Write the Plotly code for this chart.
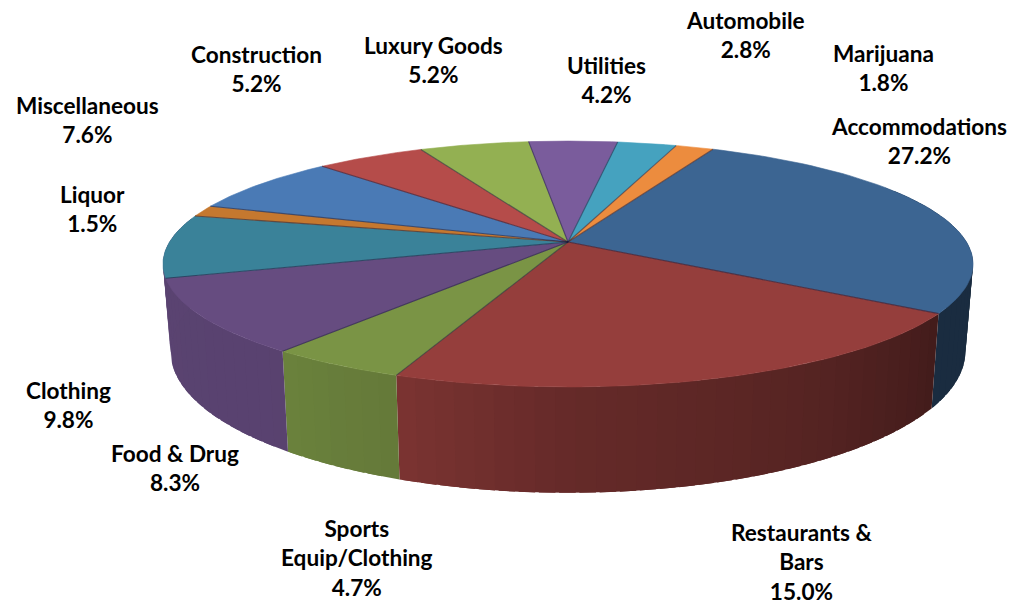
import numpy as np
import plotly.graph_objects as go

# ---- data ----
categories = ["Accommodations", "Restaurants &<br>Bars", "Sports<br>Equip/Clothing", "Clothing",
              "Food & Drug", "Liquor", "Miscellaneous", "Construction", "Luxury Goods",
              "Utilities", "Automobile", "Marijuana"]
printed_pct = ["27.2%", "15.0%", "4.7%", "9.8%", "8.3%", "1.5%", "7.6%", "5.2%", "5.2%", "4.2%", "2.8%", "1.8%"]
# drawn slice shares (the restaurants wedge is visibly larger than its printed label)
slice_shares = [27.2, 21.7, 4.7, 9.8, 8.3, 1.5, 7.6, 5.2, 5.2, 4.2, 2.8, 1.8]

# ---- styling and layout ----
top_colors = ["#3C6592", "#953E3C", "#7A9445", "#664C80", "#3A8299", "#C5782F",
              "#4A7AB5", "#B54C4A", "#93B052", "#7A5C9C", "#45A2BF", "#EC8C3E"]
label_anchor = [(919, 141), (802, 562), (357, 558), (68, 405), (175, 468), (92, 209),
                (87, 120), (256, 69), (433, 60), (606, 80), (745, 35), (883, 68)]
START_DEG = -65.0
CX, CY = 568.0, 242.0
PERSP = 0.179
TOP = dict(rx=398.5, ry=119.0, y0=242.0)
BOT = dict(rx=391.0, ry=137.0, y0=326.0)
FONT = "Lato"
FONT_SIZE = 22.6
RIM_END = 192.0  # the purple rim runs round the left silhouette; nothing shows beyond it


def project(deg, plane):
    a = np.radians(deg)
    c, s = np.cos(a), np.sin(a)
    d = 1 - PERSP * s
    return CX + plane["rx"] * c / d, plane["y0"] + plane["ry"] * s / d


def shade(hex_color, f):
    r, g, b = [int(hex_color[i:i + 2], 16) for i in (1, 3, 5)]
    return f"rgb({r * f:.0f},{g * f:.0f},{b * f:.0f})"


def side_factor(deg):
    return float(np.interp(deg, [-30, 32, 60, 90, 110, 127, 165, 210],
                           [0.42, 0.44, 0.58, 0.68, 0.82, 0.87, 0.88, 0.88]))


edges = START_DEG + np.concatenate([[0], np.cumsum(slice_shares)]) * 3.6
rim_edges = edges.copy()
rim_edges[4] = RIM_END

fig = go.Figure()

# rim of the disc, strip by strip; each strip overlaps the next one so no seams show
for i, col in enumerate(top_colors):
    lo, hi = rim_edges[i], rim_edges[i + 1]
    for rot in (0, -360):
        a0, a1 = max(lo + rot, -30.0), min(hi + rot, RIM_END)
        if a1 <= a0:
            continue
        n = max(1, int(np.ceil((a1 - a0) / 2.5)))
        cuts = np.linspace(a0, a1, n + 1)
        for u, v in zip(cuts[:-1], cuts[1:]):
            arc = np.linspace(u, min(v + 2.0, a1), 6)
            xt, yt = project(arc, TOP)
            xb, yb = project(arc[::-1], BOT)
            c = shade(col, side_factor((u + v) / 2))
            fig.add_trace(go.Scatter(x=np.r_[xt, xb, xt[0]], y=np.r_[yt, yb, yt[0]],
                                     mode="lines", fill="toself", fillcolor=c,
                                     line=dict(color=c, width=0), hoverinfo="skip", showlegend=False))

# top face
for i, col in enumerate(top_colors):
    arc = np.linspace(edges[i], edges[i + 1], 60)
    xa, ya = project(arc, TOP)
    fig.add_trace(go.Scatter(x=np.r_[CX, xa, CX], y=np.r_[CY, ya, CY], mode="lines", fill="toself",
                             fillcolor=col, line=dict(color=col, width=0.6),
                             hoverinfo="skip", showlegend=False))

# dark seams between the slices
for e in edges[:-1]:
    xe, ye = project(e, TOP)
    fig.add_trace(go.Scatter(x=[CX, xe], y=[CY, ye], mode="lines",
                             line=dict(color="rgba(30,30,60,0.55)", width=1.1),
                             hoverinfo="skip", showlegend=False))

annotations = [dict(x=ax, y=ay, xref="x", yref="y", showarrow=False, align="center",
                    xanchor="center", yanchor="middle", text=f"<b>{name}<br>{pct}</b>",
                    font=dict(family=FONT, size=FONT_SIZE, color="#000000"))
               for name, pct, (ax, ay) in zip(categories, printed_pct, label_anchor)]

fig.update_layout(width=1026, height=606, margin=dict(l=0, r=0, t=0, b=0),
                  paper_bgcolor="white", plot_bgcolor="white", showlegend=False,
                  xaxis=dict(range=[0, 1026], visible=False, fixedrange=True),
                  yaxis=dict(range=[606, 0], visible=False, fixedrange=True),
                  annotations=annotations)

fig.write_html("out.html", config=dict(displayModeBar=False),
               post_script="document.body.style.margin='0';")
